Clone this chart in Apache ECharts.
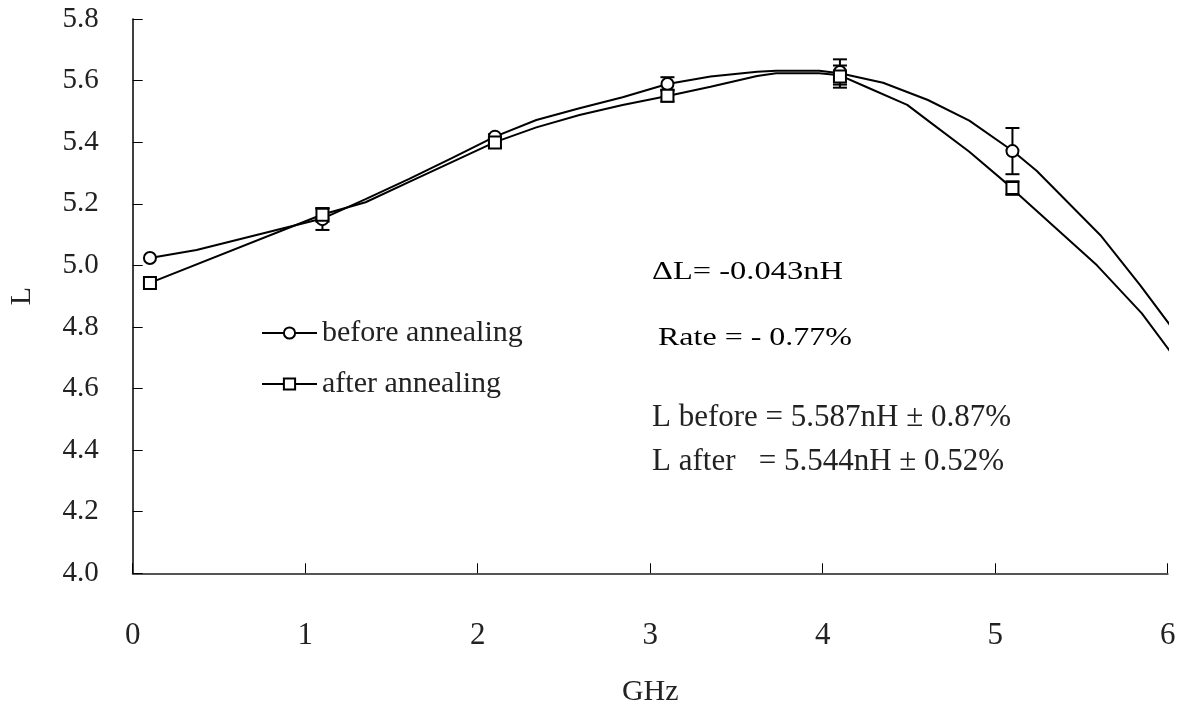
<!DOCTYPE html>
<html>
<head>
<meta charset="utf-8">
<script src="https://cdn.jsdelivr.net/npm/echarts@6/dist/echarts.min.js"></script>
<style>
  body { margin: 0; background: #fff; }
  #chart { width: 1177px; height: 707px; }
</style>
</head>
<body>
<div id="chart"></div>
<script>
// measured points (GHz, nH) and error half-widths
const freqPoints = [0.1, 1.1, 2.1, 3.1, 4.1, 5.1]
const beforeL = [5.024, 5.15, 5.418, 5.589, 5.628, 5.371]
const afterL = [4.943, 5.164, 5.399, 5.551, 5.613, 5.251]
const beforeErr = [0, 0.035, 0.008, 0.022, 0.041, 0.075]
const afterErr = [0, 0.022, 0.014, 0.019, 0.036, 0.022]

// fitted curves
const beforeCurveF = [0.1, 0.37, 1.1, 1.35, 1.6, 1.85, 2.1, 2.34, 2.59, 2.84, 3.1, 3.35, 3.62, 3.73, 3.98, 4.1, 4.35, 4.61, 4.85, 5.1, 5.24, 5.61, 5.84, 6.06]
const beforeCurveL = [5.024, 5.05, 5.152, 5.215, 5.28, 5.348, 5.418, 5.472, 5.51, 5.546, 5.589, 5.613, 5.629, 5.632, 5.632, 5.624, 5.593, 5.537, 5.47, 5.372, 5.307, 5.098, 4.936, 4.771]
const afterCurveF = [0.1, 1.1, 1.35, 1.6, 1.85, 2.1, 2.34, 2.59, 2.84, 3.1, 3.35, 3.62, 3.73, 3.98, 4.1, 4.25, 4.49, 4.62, 4.85, 5.1, 5.14, 5.59, 5.85, 6.06]
const afterCurveL = [4.943, 5.165, 5.205, 5.27, 5.335, 5.4, 5.448, 5.488, 5.521, 5.55, 5.58, 5.615, 5.624, 5.624, 5.617, 5.58, 5.521, 5.466, 5.369, 5.25, 5.228, 5.0, 4.844, 4.686]

const seriesNames = ['before annealing', 'after annealing']
const notes = ['\u0394L= -0.043nH', 'Rate = - 0.77%', 'L before = 5.587nH \u00b1 0.87%', 'L after   = 5.544nH \u00b1 0.52%']

const font = 'Liberation Serif'
const zip = (a, b) => a.map((v, i) => [v, b[i]])
const errData = (vals, errs) => freqPoints.map((f, i) => [f, vals[i] - errs[i], vals[i] + errs[i]])

function renderErr (params, api) {
  const x = api.value(0)
  const lo = api.value(1)
  const hi = api.value(2)
  if (hi - lo <= 0) return null
  const pTop = api.coord([x, hi])
  const pBot = api.coord([x, lo])
  const cap = 7
  const st = { stroke: '#000', lineWidth: 2 }
  return {
    type: 'group',
    children: [
      { type: 'line', shape: { x1: pTop[0], y1: pTop[1], x2: pBot[0], y2: pBot[1] }, style: st },
      { type: 'line', shape: { x1: pTop[0] - cap, y1: pTop[1], x2: pTop[0] + cap, y2: pTop[1] }, style: st },
      { type: 'line', shape: { x1: pBot[0] - cap, y1: pBot[1], x2: pBot[0] + cap, y2: pBot[1] }, style: st }
    ]
  }
}

const myChart = echarts.init(document.getElementById('chart'))
const option = {
  animation: false,
  backgroundColor: '#fff',
  textStyle: { fontFamily: font },
  grid: { left: 132.7, right: 9.3, top: 19, bottom: 133.7, containLabel: false, outerBoundsMode: 'none' },
  legend: {
    data: seriesNames,
    orient: 'vertical',
    left: 256,
    top: 313,
    itemWidth: 55,
    itemHeight: 14,
    itemGap: 21,
    textStyle: { fontFamily: font, fontSize: 30, color: '#222' }
  },
  xAxis: {
    type: 'value',
    min: 0,
    max: 6,
    interval: 1,
    name: 'GHz',
    nameLocation: 'middle',
    nameGap: 104,
    nameTextStyle: { fontFamily: font, fontSize: 30, color: '#222' },
    splitLine: { show: false },
    axisLine: { lineStyle: { color: '#555', width: 2 } },
    axisTick: { inside: true, length: 10, lineStyle: { color: '#000', width: 1 } },
    axisLabel: { margin: 47, fontFamily: font, fontSize: 31, color: '#222' }
  },
  yAxis: {
    type: 'value',
    min: 4.0,
    max: 5.8,
    interval: 0.2,
    name: 'L',
    nameLocation: 'middle',
    nameGap: 96,
    nameRotate: 90,
    nameTextStyle: { fontFamily: font, fontSize: 30, color: '#222' },
    splitLine: { show: false },
    axisLine: { show: true, lineStyle: { color: '#000', width: 1.5 } },
    axisTick: { show: true, inside: true, length: 10, lineStyle: { color: '#000', width: 1 } },
    axisLabel: {
      margin: 34,
      fontFamily: font,
      fontSize: 29,
      color: '#222',
      formatter: v => v.toFixed(1)
    }
  },
  graphic: [
    { type: 'text', x: 652, y: 272, scaleX: 1.3, style: { text: notes[0], fontFamily: font, fontSize: 25, fill: '#000', textVerticalAlign: 'middle' } },
    { type: 'text', x: 658, y: 338, scaleX: 1.28, style: { text: notes[1], fontFamily: font, fontSize: 25, fill: '#000', textVerticalAlign: 'middle' } },
    { type: 'text', x: 652, y: 418, style: { text: notes[2], fontFamily: font, fontSize: 31, fill: '#222', textVerticalAlign: 'middle' } },
    { type: 'text', x: 652, y: 462, style: { text: notes[3], fontFamily: font, fontSize: 31, fill: '#222', textVerticalAlign: 'middle' } }
  ],
  series: [
    {
      name: seriesNames[0],
      type: 'line',
      data: zip(beforeCurveF, beforeCurveL),
      symbol: 'emptyCircle',
      showSymbol: false,
      clip: false,
      lineStyle: { color: '#000', width: 2 },
      itemStyle: { color: '#000' },
      z: 2
    },
    {
      name: seriesNames[1],
      type: 'line',
      data: zip(afterCurveF, afterCurveL),
      symbol: 'emptyRect',
      showSymbol: false,
      clip: false,
      lineStyle: { color: '#000', width: 2 },
      itemStyle: { color: '#000' },
      z: 2
    },
    {
      name: 'before err',
      type: 'custom',
      renderItem: renderErr,
      encode: { x: 0, y: [1, 2] },
      data: errData(beforeL, beforeErr),
      z: 3
    },
    {
      name: 'after err',
      type: 'custom',
      renderItem: renderErr,
      encode: { x: 0, y: [1, 2] },
      data: errData(afterL, afterErr),
      z: 3
    },
    {
      name: 'before pts',
      type: 'scatter',
      data: zip(freqPoints, beforeL),
      symbol: 'circle',
      symbolSize: 12,
      itemStyle: { color: '#fff', borderColor: '#000', borderWidth: 2, opacity: 1 },
      z: 4
    },
    {
      name: 'after pts',
      type: 'scatter',
      data: zip(freqPoints, afterL),
      symbol: 'rect',
      symbolSize: 12,
      itemStyle: { color: '#fff', borderColor: '#000', borderWidth: 2, opacity: 1 },
      z: 5
    }
  ]
}
myChart.setOption(option)
</script>
</body>
</html>
